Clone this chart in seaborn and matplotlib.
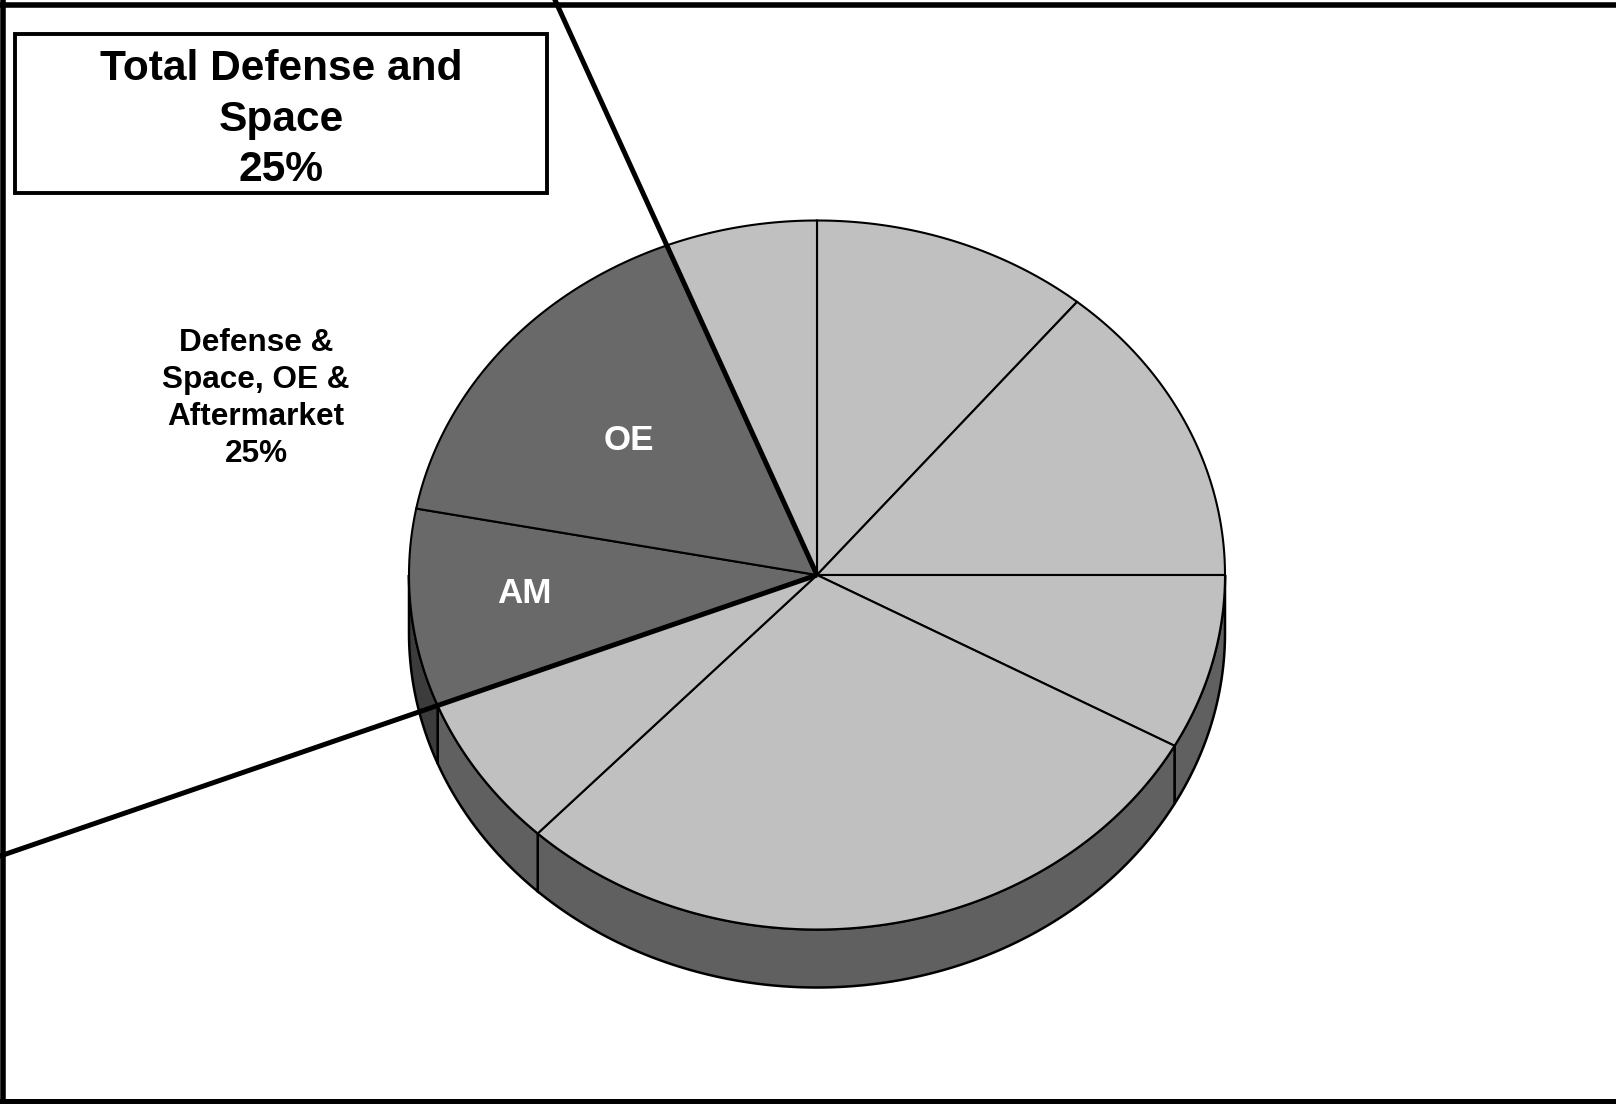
import numpy as np
import matplotlib
matplotlib.use("Agg")
import matplotlib.pyplot as plt
from matplotlib.patches import Polygon, Rectangle
import seaborn as sns

# ---------------- data ----------------
segments = ["Segment 1", "Segment 2", "Segment 3", "Segment 4",
            "Segment 5", "AM", "OE", "Segment 6"]
shares = [11, 14, 8, 29, 7, 9, 16, 6]
slice_labels = ["", "", "", "", "", "AM", "OE", ""]
highlight = ["AM", "OE"]            # Defense & Space, OE & Aftermarket
title_lines = ["Total Defense and", "Space", "25%"]
side_label_lines = ["Defense &", "Space, OE &", "Aftermarket", "25%"]

# ---------------- style ----------------
sns.set_theme(style="white")
plt.rcParams['font.family'] = ['Liberation Sans', 'DejaVu Sans']

LIGHT_TOP, LIGHT_SIDE = "#C0C0C0", "#606060"
DARK_TOP, DARK_SIDE = "#696969", "#3C3C3C"

W, H = 1616, 1104
fig = plt.figure(figsize=(W / 100, H / 100), dpi=100)
ax = fig.add_axes([0, 0, 1, 1])
ax.set_xlim(0, W)
ax.set_ylim(H, 0)
ax.axis('off')

# pie geometry (projected ellipse)
cx, cy, rx, ry, depth = 817, 575, 408, 354.5, 58


def pt(t_deg, dz=0.0):
    t = np.radians(t_deg)
    return cx + rx * np.cos(t), cy - ry * np.sin(t) + dz


cum = np.concatenate([[0], np.cumsum(shares)])
total = cum[-1]
starts = 90 - cum[:-1] / total * 360
ends = 90 - cum[1:] / total * 360

# side walls (front half only)
for i, name in enumerate(segments):
    lo, hi = max(ends[i], -180), min(starts[i], 0)
    if hi <= lo:
        continue
    ts = np.linspace(lo, hi, 200)
    xt, yt = pt(ts)
    xb, yb = pt(ts[::-1], depth)
    poly = np.column_stack([np.concatenate([xt, xb]), np.concatenate([yt, yb])])
    col = DARK_SIDE if name in highlight else LIGHT_SIDE
    ax.add_patch(Polygon(poly, closed=True, facecolor=col, edgecolor="black",
                         linewidth=1.8, zorder=1))

# top faces
for i, name in enumerate(segments):
    ts = np.linspace(starts[i], ends[i], 300)
    xt, yt = pt(ts)
    poly = np.column_stack([np.concatenate([[cx], xt]), np.concatenate([[cy], yt])])
    col = DARK_TOP if name in highlight else LIGHT_TOP
    ax.add_patch(Polygon(poly, closed=True, facecolor=col, edgecolor="black",
                         linewidth=1.5, zorder=2))

# slice labels
label_frac = {"OE": (0.60, 0.61), "AM": (0.72, 0.47)}
for i, lab in enumerate(slice_labels):
    if not lab:
        continue
    mid = np.radians((starts[i] + ends[i]) / 2)
    fx, fy = label_frac[lab]
    x = cx + fx * rx * np.cos(mid)
    y = cy - fy * ry * np.sin(mid)
    ax.text(x, y + 12.5, lab, ha="center", va="baseline", color="white",
            fontsize=25.2, fontweight="bold", zorder=5)

# leader lines along the outer edges of the highlighted group
idx = [segments.index(n) for n in highlight]
edge_angles = [max(starts[j] for j in idx), min(ends[j] for j in idx)]
for a in edge_angles:
    t = np.radians(a)
    dx, dy = rx * np.cos(t), -ry * np.sin(t)
    ax.plot([cx, cx + 5 * dx], [cy, cy + 5 * dy], color="black",
            linewidth=3.6, solid_capstyle="butt", zorder=4)

# frame (top, left, bottom)
ax.plot([0, W], [4.5, 4.5], color="black", linewidth=4.0, zorder=6)
ax.plot([3, 3], [0, H], color="black", linewidth=4.0, zorder=6)
ax.plot([0, W], [1101, 1101], color="black", linewidth=3.6, zorder=6)

# title box
ax.add_patch(Rectangle((15, 34), 532, 159, facecolor="white", edgecolor="black",
                       linewidth=2.8, zorder=7))
for k, line in enumerate(title_lines):
    ax.text(281, 80 + k * 50.5, line, ha="center", va="baseline",
            fontsize=30.6, fontweight="bold", color="black", zorder=8)

# side label
for k, line in enumerate(side_label_lines):
    ax.text(256, 350.7 + k * 37.0, line, ha="center", va="baseline",
            fontsize=22.7, fontweight="bold", color="black", zorder=8)

fig.savefig("out.png", dpi=100, facecolor="white")
